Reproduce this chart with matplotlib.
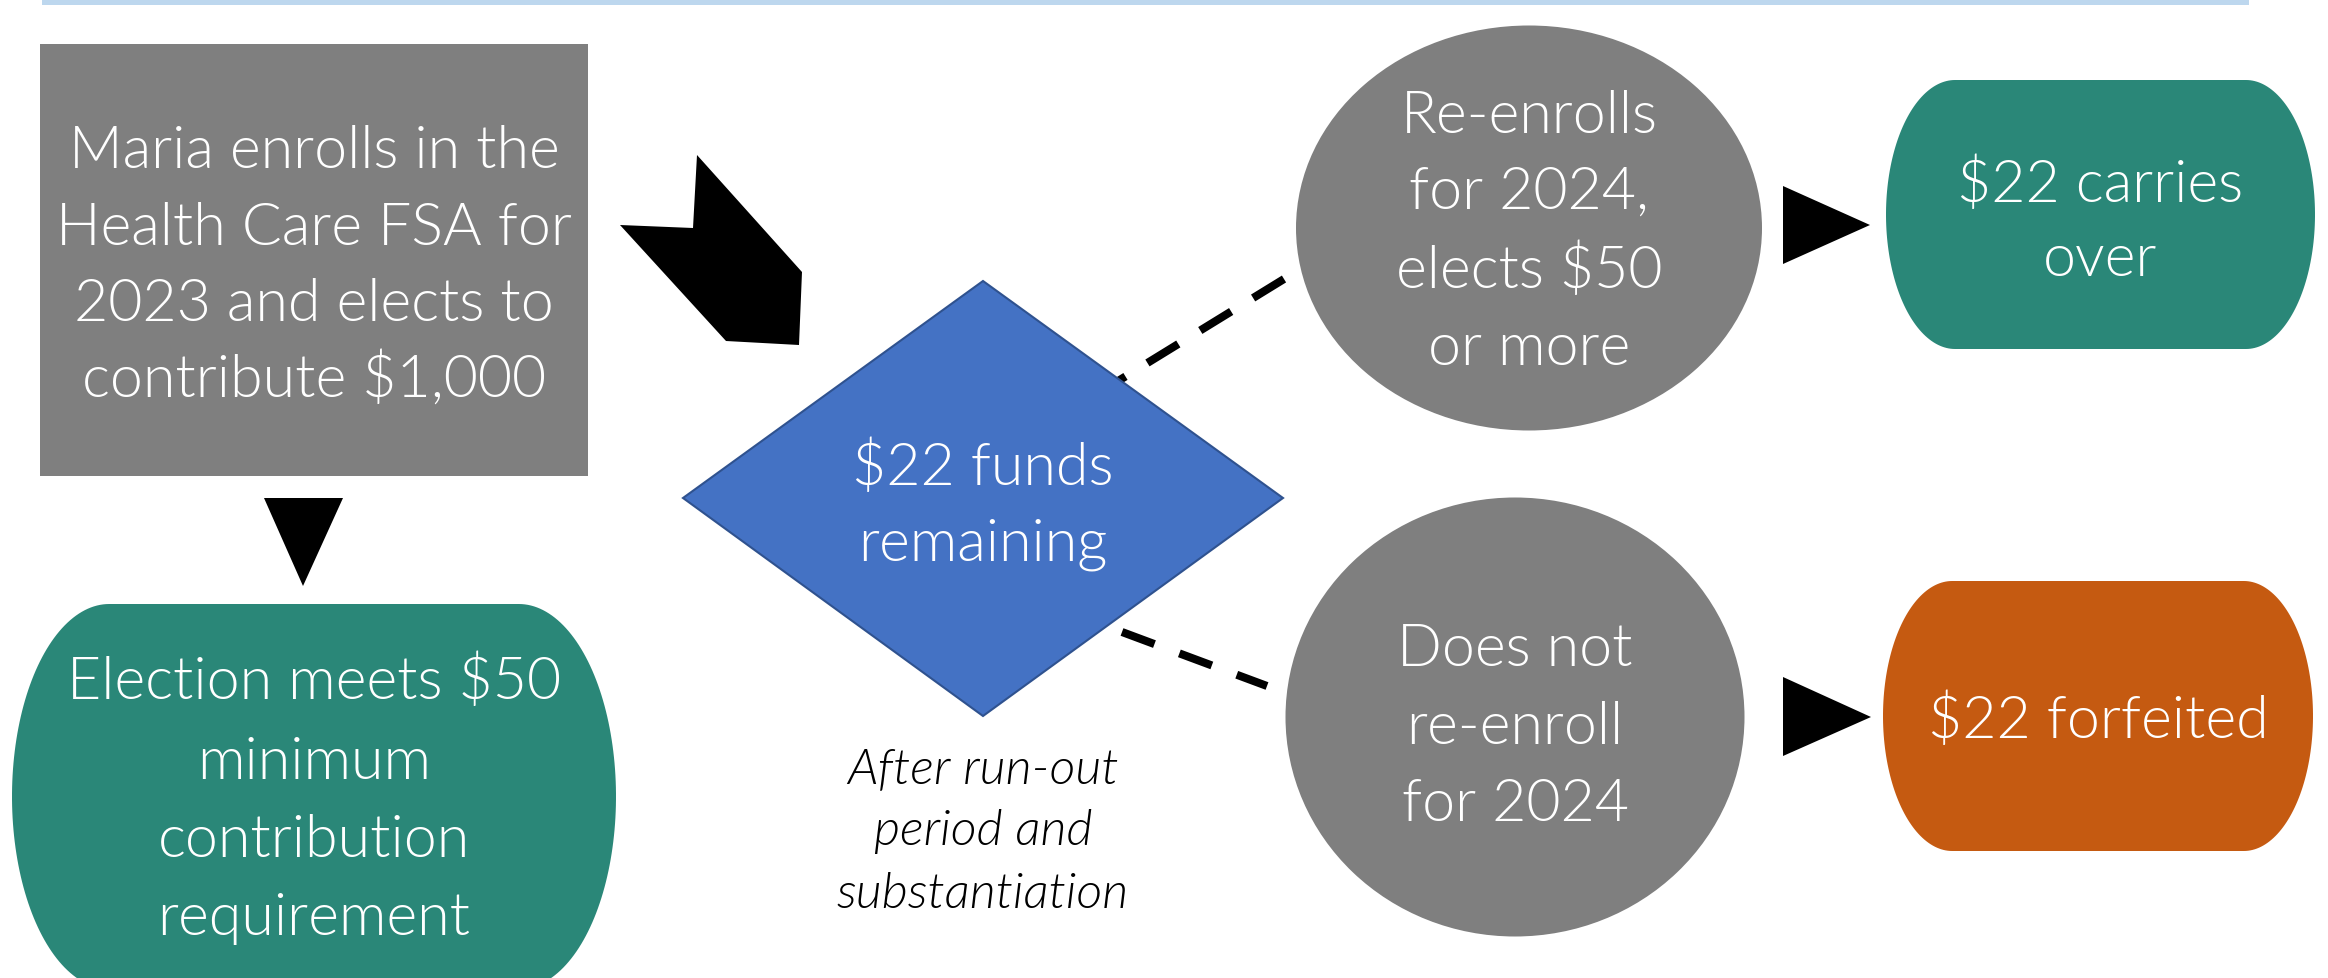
import numpy as np
import matplotlib
matplotlib.use("Agg")
import matplotlib.pyplot as plt
from matplotlib.patches import Polygon, Rectangle, Ellipse
from matplotlib import font_manager as fm
from matplotlib.font_manager import FontProperties

# ---- content ----
start_lines = ["Maria enrolls in the", "Health Care FSA for", "2023 and elects to", "contribute $1,000"]
meets_lines = ["Election meets $50", "minimum", "contribution", "requirement"]
diamond_lines = ["$22 funds", "remaining"]
note_lines = ["After run-out", "period and", "substantiation"]
reenroll_lines = ["Re-enrolls", "for 2024,", "elects $50", "or more"]
noreenroll_lines = ["Does not", "re-enroll", "for 2024"]
carry_lines = ["$22 carries", "over"]
forfeit_lines = ["$22 forfeited"]

GRAY = "#7F7F7F"
TEAL = "#2A8778"
ORANGE = "#C55A11"
BLUE = "#4472C4"
BAR = "#BDD7EE"


def pick_font(family, style, prefer_names, fallback_weight):
    cands = [f for f in fm.fontManager.ttflist if f.name == family and f.style == style]
    for pn in prefer_names:
        for f in cands:
            base = f.fname.split("/")[-1].lower()
            if base == pn.lower():
                return FontProperties(fname=f.fname)
    if cands:
        best = min(cands, key=lambda f: abs((f.weight if isinstance(f.weight, int) else 400) - fallback_weight))
        return FontProperties(fname=best.fname)
    return FontProperties(family="DejaVu Sans", style=style)


FP_MAIN = pick_font("Lato", "normal", ["Lato-Light.ttf", "Lato-Regular.ttf"], 300)
FP_ITAL = pick_font("Lato", "italic", ["Lato-LightItalic.ttf", "Lato-Italic.ttf"], 400)

W, H = 2328, 979
fig = plt.figure(figsize=(W / 100, H / 100), dpi=100)
ax = fig.add_axes([0, 0, 1, 1])
ax.set_xlim(0, W)
ax.set_ylim(H, 0)
ax.axis("off")


def terminator(x0, y0, x1, y1, color, frac=0.161):
    w = x1 - x0
    rx = frac * w
    ry = (y1 - y0) / 2
    yc = (y0 + y1) / 2
    t1 = np.linspace(-np.pi / 2, np.pi / 2, 100)
    t2 = np.linspace(np.pi / 2, 3 * np.pi / 2, 100)
    right = np.column_stack([(x1 - rx) + rx * np.cos(t1), yc + ry * np.sin(t1)])
    left = np.column_stack([(x0 + rx) + rx * np.cos(t2), yc + ry * np.sin(t2)])
    pts = np.vstack([right, left])
    ax.add_patch(Polygon(pts, closed=True, facecolor=color, edgecolor="none", zorder=3))


def lines_text(x, baselines, lines, size, color="white", fp=None):
    fp = (fp or FP_MAIN).copy()
    fp.set_size(size)
    for yb, s in zip(baselines, lines):
        ax.text(x, yb, s, ha="center", va="baseline", color=color,
                fontproperties=fp, zorder=6)


FS = 42.6

# top bar
ax.add_patch(Rectangle((42, 0), 2207, 6, facecolor=BAR, edgecolor="none", zorder=2))

# start box
ax.add_patch(Rectangle((40, 45), 548, 432, facecolor=GRAY, edgecolor="none", zorder=3))
lines_text(314, [168, 245, 321, 397], start_lines, FS)

# down arrow
ax.add_patch(Polygon([(264, 499), (343, 499), (303, 587)], closed=True,
                     facecolor="black", edgecolor="none", zorder=3))

# bottom-left terminator
terminator(12, 605, 616, 990, TEAL)
lines_text(314, [699, 779, 857, 935], meets_lines, FS)

# chevron arrow
ax.add_patch(Polygon([(620, 226), (693, 229), (697, 156), (802, 273), (799, 346), (726, 342)],
                     closed=True, facecolor="black", edgecolor="none", zorder=3))

# dashed connectors (upper one runs behind the diamond)
ax.plot([1284, 1040], [280, 430], color="black", lw=5.8, dashes=(4.5, 3.2), zorder=2,
        dash_capstyle="butt")
ax.plot([1122, 1267], [633, 687], color="black", lw=5.8, dashes=(4.3, 3.3), zorder=2,
        dash_capstyle="butt")

# diamond
ax.add_patch(Polygon([(683, 499), (983, 282), (1283, 499), (983, 717)], closed=True,
                     facecolor=BLUE, edgecolor="#2F528F", lw=1.5, zorder=4))
lines_text(983, [485, 561], diamond_lines, FS)
lines_text(983, [783, 845, 908], note_lines, 36.3, color="black", fp=FP_ITAL)

# gray ellipses
ax.add_patch(Ellipse((1529, 229), 466, 405, facecolor=GRAY, edgecolor="none", zorder=3))
lines_text(1529, [133, 209, 288, 365], reenroll_lines, FS)
ax.add_patch(Ellipse((1515, 718), 459, 439, facecolor=GRAY, edgecolor="none", zorder=3))
lines_text(1515, [666, 744, 821], noreenroll_lines, FS)

# right arrows
ax.add_patch(Polygon([(1783, 187), (1870, 226), (1783, 265)], closed=True,
                     facecolor="black", edgecolor="none", zorder=3))
ax.add_patch(Polygon([(1783, 678), (1871, 718), (1783, 757)], closed=True,
                     facecolor="black", edgecolor="none", zorder=3))

# outcome terminators
terminator(1886, 81, 2315, 350, TEAL)
lines_text(2100, [202, 276], carry_lines, FS)
terminator(1883, 582, 2313, 852, ORANGE)
lines_text(2098, [738], forfeit_lines, FS)

fig.savefig("out.png", dpi=100, facecolor="white")
